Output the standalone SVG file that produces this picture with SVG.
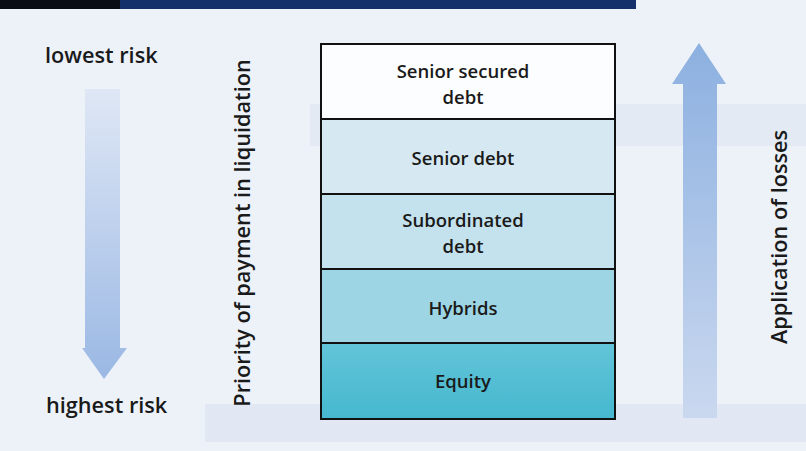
<svg xmlns="http://www.w3.org/2000/svg" width="806" height="451" viewBox="0 0 806 451">
  <style>
    .t { font-family: "Open Sans", "Noto Sans", "Liberation Sans", sans-serif; font-weight: 600; fill: #1a1a1a; }
    .lbl { font-size: 18.5px; text-anchor: middle; }
    .side { font-size: 21.7px; }
    .layer { stroke: #111; stroke-width: 2; }
  </style>
  <defs>
    <linearGradient id="downGrad" x1="0" y1="0" x2="0" y2="1">
      <stop offset="0" stop-color="#dfe7f5"/>
      <stop offset="1" stop-color="#9ab8e4"/>
    </linearGradient>
    <linearGradient id="upGrad" x1="0" y1="0" x2="0" y2="1">
      <stop offset="0" stop-color="#8cb0e0"/>
      <stop offset="1" stop-color="#cad8ef"/>
    </linearGradient>
    <linearGradient id="eqGrad" x1="0" y1="0" x2="0" y2="1">
      <stop offset="0" stop-color="#63c4d8"/>
      <stop offset="1" stop-color="#45b8cf"/>
    </linearGradient>
  </defs>

  <!-- background -->
  <rect x="0" y="0" width="806" height="451" fill="#edf2f9"/>
  <rect x="310" y="104" width="496" height="42" fill="#e3eaf4"/>
  <rect x="205" y="404" width="601" height="38" fill="#e1e8f3"/>

  <!-- banner -->
  <g id="banner">
    <rect x="0" y="0" width="120" height="9" fill="#0a0d14"/>
    <rect x="120" y="0" width="516" height="9" fill="#14306a"/>
  </g>

  <!-- side labels -->
  <g id="lowest-risk">
    <text class="t side" x="45" y="63">lowest risk</text>
  </g>
  <g id="highest-risk">
    <text class="t side" x="46" y="413">highest risk</text>
  </g>
  <g id="priority-label">
    <text class="t side" text-anchor="middle" transform="translate(250,233) rotate(-90)">Priority of payment in liquidation</text>
  </g>
  <g id="application-label">
    <text class="t side" text-anchor="middle" transform="translate(787,237) rotate(-90)">Application of losses</text>
  </g>

  <!-- capital stack -->
  <g id="senior-secured-debt">
    <rect class="layer" x="321" y="44" width="294" height="75" fill="#fcfdfe"/>
    <text class="t lbl" x="463" y="78">Senior secured</text>
    <text class="t lbl" x="463" y="104">debt</text>
  </g>
  <g id="senior-debt">
    <rect class="layer" x="321" y="119" width="294" height="75" fill="#d6e9f2"/>
    <text class="t lbl" x="463" y="165">Senior debt</text>
  </g>
  <g id="subordinated-debt">
    <rect class="layer" x="321" y="194" width="294" height="75" fill="#c4e2ed"/>
    <text class="t lbl" x="463" y="227">Subordinated</text>
    <text class="t lbl" x="463" y="253">debt</text>
  </g>
  <g id="hybrids">
    <rect class="layer" x="321" y="269" width="294" height="74" fill="#9dd5e4"/>
    <text class="t lbl" x="463" y="315">Hybrids</text>
  </g>
  <g id="equity">
    <rect class="layer" x="321" y="343" width="294" height="76" fill="url(#eqGrad)"/>
    <text class="t lbl" x="463" y="388">Equity</text>
  </g>

  <!-- arrows -->
  <g id="connectors">
    <path d="M85,89 H120 V348 H127 L104,379 L82,348 H85 Z" fill="url(#downGrad)"/>
    <path d="M683,418 V84 H672 L699,43 L726,84 H717 V418 Z" fill="url(#upGrad)"/>
  </g>
</svg>
